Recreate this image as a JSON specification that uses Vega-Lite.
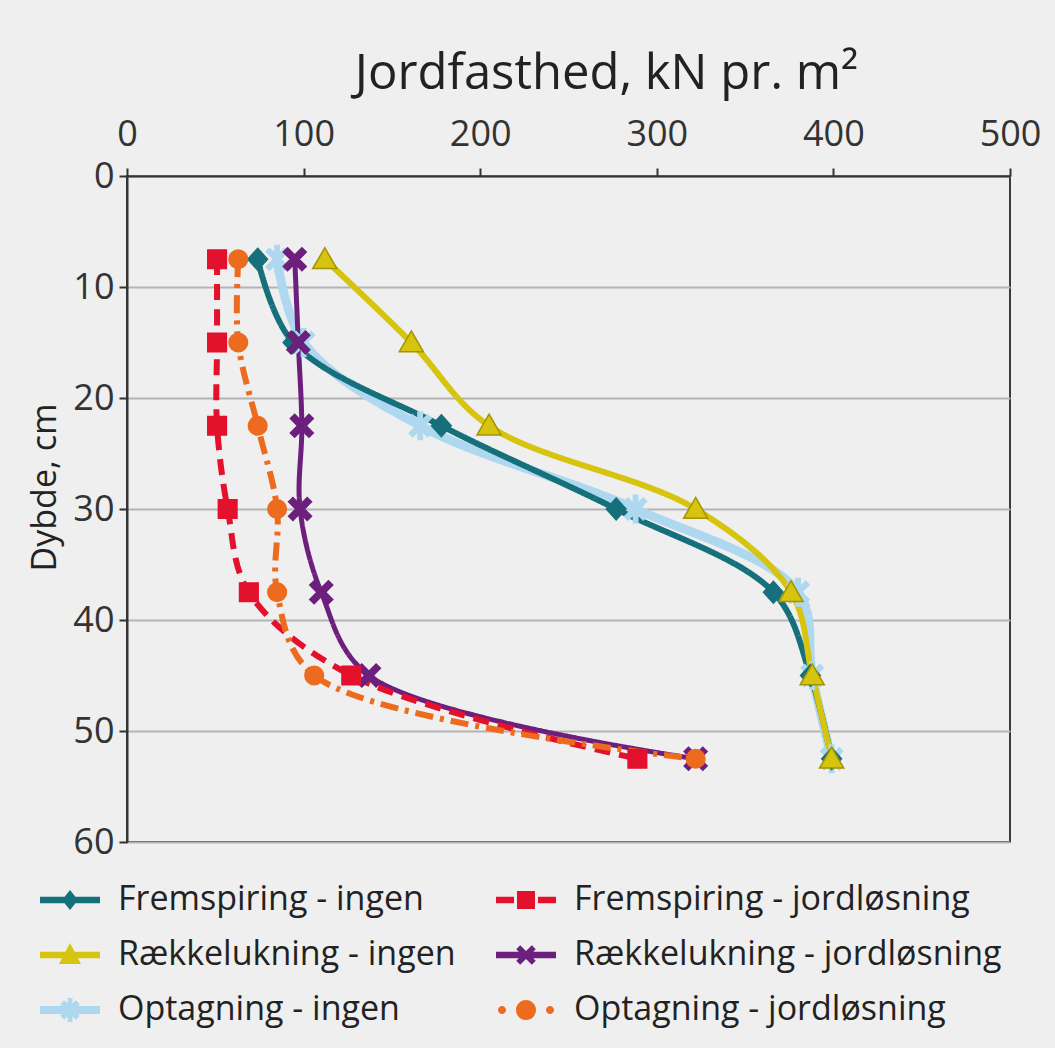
{
  "$schema": "https://vega.github.io/schema/vega-lite/v6.json",
  "autosize": "none",
  "width": 883,
  "height": 666,
  "padding": {"left": 127, "top": 176, "right": 45, "bottom": 206},
  "background": "#efefef",
  "config": {
    "font": "Open Sans",
    "view": {"stroke": "#3a3a3a", "strokeWidth": 2}
  },
  "data": {
    "values": [
      {"series": "Optagning - ingen", "depth": 7.5, "kn": 85},
      {"series": "Optagning - ingen", "depth": 15, "kn": 100},
      {"series": "Optagning - ingen", "depth": 22.5, "kn": 166},
      {"series": "Optagning - ingen", "depth": 30, "kn": 288},
      {"series": "Optagning - ingen", "depth": 37.5, "kn": 380},
      {"series": "Optagning - ingen", "depth": 45, "kn": 388},
      {"series": "Optagning - ingen", "depth": 52.5, "kn": 399},
      {"series": "Fremspiring - ingen", "depth": 7.5, "kn": 74},
      {"series": "Fremspiring - ingen", "depth": 15, "kn": 94},
      {"series": "Fremspiring - ingen", "depth": 22.5, "kn": 178},
      {"series": "Fremspiring - ingen", "depth": 30, "kn": 277},
      {"series": "Fremspiring - ingen", "depth": 37.5, "kn": 366},
      {"series": "Fremspiring - ingen", "depth": 45, "kn": 387},
      {"series": "Fremspiring - ingen", "depth": 52.5, "kn": 399},
      {"series": "Rækkelukning - ingen", "depth": 7.5, "kn": 112},
      {"series": "Rækkelukning - ingen", "depth": 15, "kn": 161},
      {"series": "Rækkelukning - ingen", "depth": 22.5, "kn": 205},
      {"series": "Rækkelukning - ingen", "depth": 30, "kn": 322},
      {"series": "Rækkelukning - ingen", "depth": 37.5, "kn": 376},
      {"series": "Rækkelukning - ingen", "depth": 45, "kn": 388},
      {"series": "Rækkelukning - ingen", "depth": 52.5, "kn": 399},
      {"series": "Rækkelukning - jordløsning", "depth": 7.5, "kn": 95},
      {"series": "Rækkelukning - jordløsning", "depth": 15, "kn": 97},
      {"series": "Rækkelukning - jordløsning", "depth": 22.5, "kn": 99},
      {"series": "Rækkelukning - jordløsning", "depth": 30, "kn": 98},
      {"series": "Rækkelukning - jordløsning", "depth": 37.5, "kn": 110},
      {"series": "Rækkelukning - jordløsning", "depth": 45, "kn": 137},
      {"series": "Rækkelukning - jordløsning", "depth": 52.5, "kn": 322},
      {"series": "Fremspiring - jordløsning", "depth": 7.5, "kn": 51},
      {"series": "Fremspiring - jordløsning", "depth": 15, "kn": 51},
      {"series": "Fremspiring - jordløsning", "depth": 22.5, "kn": 51},
      {"series": "Fremspiring - jordløsning", "depth": 30, "kn": 57},
      {"series": "Fremspiring - jordløsning", "depth": 37.5, "kn": 69},
      {"series": "Fremspiring - jordløsning", "depth": 45, "kn": 127},
      {"series": "Fremspiring - jordløsning", "depth": 52.5, "kn": 289},
      {"series": "Optagning - jordløsning", "depth": 7.5, "kn": 63},
      {"series": "Optagning - jordløsning", "depth": 15, "kn": 63},
      {"series": "Optagning - jordløsning", "depth": 22.5, "kn": 74},
      {"series": "Optagning - jordløsning", "depth": 30, "kn": 85},
      {"series": "Optagning - jordløsning", "depth": 37.5, "kn": 85},
      {"series": "Optagning - jordløsning", "depth": 45, "kn": 106},
      {"series": "Optagning - jordløsning", "depth": 52.5, "kn": 322}
    ]
  },
  "encoding": {
    "x": {
      "field": "kn",
      "type": "quantitative",
      "scale": {"domain": [0, 500]},
      "axis": {
        "orient": "top",
        "values": [0, 100, 200, 300, 400, 500],
        "grid": false,
        "title": "Jordfasthed, kN pr. m²",
        "titleFontSize": 49,
        "titleFontWeight": "normal",
        "titleColor": "#222222",
        "titleX": 479,
        "titleY": -88,
        "titleAlign": "center",
        "titleBaseline": "alphabetic",
        "labelFontSize": 36,
        "labelColor": "#333333",
        "labelBaseline": "alphabetic",
        "labelPadding": 23,
        "labelFlush": false,
        "labelOverlap": false,
        "tickSize": 8,
        "tickWidth": 2,
        "tickColor": "#333333",
        "domainColor": "#333333",
        "domainWidth": 2
      }
    },
    "y": {
      "field": "depth",
      "type": "quantitative",
      "scale": {"domain": [0, 60], "reverse": true},
      "axis": {
        "values": [0, 10, 20, 30, 40, 50, 60],
        "grid": true,
        "gridColor": "#b4b4b4",
        "gridWidth": 2,
        "title": "Dybde, cm",
        "titleFontSize": 34,
        "titleFontWeight": "normal",
        "titleColor": "#222222",
        "titleX": -82,
        "titleY": 311,
        "titleAlign": "center",
        "titleBaseline": "middle",
        "labelFontSize": 36,
        "labelColor": "#333333",
        "labelPadding": 5,
        "labelFlush": false,
        "labelOverlap": false,
        "tickSize": 8,
        "tickWidth": 2,
        "tickColor": "#333333",
        "domainColor": "#333333",
        "domainWidth": 2
      }
    }
  },
  "resolve": {"scale": {"color": "independent", "shape": "independent"}},
  "layer": [
    {
      "mark": {"type": "line", "interpolate": "catmull-rom", "strokeCap": "butt", "strokeJoin": "round"},
      "encoding": {
        "order": {"field": "depth", "type": "quantitative"},
        "color": {
          "field": "series",
          "type": "nominal",
          "scale": {
            "domain": ["Fremspiring - ingen", "Rækkelukning - ingen", "Optagning - ingen", "Fremspiring - jordløsning", "Rækkelukning - jordløsning", "Optagning - jordløsning"],
            "range": ["#16707c", "#d6c40f", "#aed8ef", "#e3112c", "#6c1f7d", "#ed6b1f"]
          },
          "legend": null
        },
        "strokeDash": {
          "field": "series",
          "type": "nominal",
          "scale": {
            "domain": ["Fremspiring - ingen", "Rækkelukning - ingen", "Optagning - ingen", "Fremspiring - jordløsning", "Rækkelukning - jordløsning", "Optagning - jordløsning"],
            "range": [[1, 0], [1, 0], [1, 0], [16, 9], [1, 0], [18, 7, 4, 7]]
          },
          "legend": null
        },
        "strokeWidth": {
          "field": "series",
          "type": "nominal",
          "scale": {
            "type": "ordinal",
            "domain": ["Fremspiring - ingen", "Rækkelukning - ingen", "Optagning - ingen", "Fremspiring - jordløsning", "Rækkelukning - jordløsning", "Optagning - jordløsning"],
            "range": [6, 6, 9, 6, 5, 6]
          },
          "legend": null
        }
      }
    },
    {
      "mark": {"type": "point", "filled": true, "opacity": 1, "size": 480, "strokeWidth": 1.5},
      "encoding": {
        "fill": {
          "field": "series",
          "type": "nominal",
          "scale": {
            "domain": ["Fremspiring - ingen", "Rækkelukning - ingen", "Optagning - ingen", "Fremspiring - jordløsning", "Rækkelukning - jordløsning", "Optagning - jordløsning"],
            "range": ["#16707c", "#d6c40f", "#aed8ef", "#e3112c", "#6c1f7d", "#ed6b1f"]
          },
          "legend": null
        },
        "stroke": {
          "field": "series",
          "type": "nominal",
          "scale": {
            "domain": ["Fremspiring - ingen", "Rækkelukning - ingen", "Optagning - ingen", "Fremspiring - jordløsning", "Rækkelukning - jordløsning", "Optagning - jordløsning"],
            "range": ["#16707c", "#a39400", "#aed8ef", "#e3112c", "#6c1f7d", "#ed6b1f"]
          },
          "legend": null
        },
        "shape": {
          "field": "series",
          "type": "nominal",
          "scale": {
            "domain": ["Fremspiring - ingen", "Rækkelukning - ingen", "Optagning - ingen", "Fremspiring - jordløsning", "Rækkelukning - jordløsning", "Optagning - jordløsning"],
            "range": [
              "M0,-1L0.9,0L0,1L-0.9,0Z",
              "M0,-1.05L1.1,0.85L-1.1,0.85Z",
              "M0.693,-1.004L1.004,-0.693L0.311,0L1.004,0.693L0.693,1.004L0,0.311L-0.693,1.004L-1.004,0.693L-0.311,0L-1.004,-0.693L-0.693,-1.004L0,-0.311Z M-0.2,-1.25H0.2V1.25H-0.2Z",
              "M-0.85,-0.85H0.85V0.85H-0.85Z",
              "M0.651,-1.047L1.047,-0.651L0.396,0L1.047,0.651L0.651,1.047L0,0.396L-0.651,1.047L-1.047,0.651L-0.396,0L-1.047,-0.651L-0.651,-1.047L0,-0.396Z",
              "M-0.85,0A0.85,0.85 0 1,1 0.85,0A0.85,0.85 0 1,1 -0.85,0Z"
            ]
          },
          "legend": null
        }
      }
    },
    {
      "transform": [{"filter": "datum.kn < 0"}],
      "mark": {"type": "point", "filled": true, "opacity": 1},
      "encoding": {
        "color": {
          "field": "series",
          "type": "nominal",
          "scale": {
            "domain": ["Fremspiring - ingen", "Rækkelukning - ingen", "Optagning - ingen", "Fremspiring - jordløsning", "Rækkelukning - jordløsning", "Optagning - jordløsning"],
            "range": ["#16707c", "#d6c40f", "#aed8ef", "#e3112c", "#6c1f7d", "#ed6b1f"]
          },
          "legend": {
            "title": null,
            "orient": "none",
            "legendX": -87,
            "legendY": 704,
            "columns": 2,
            "padding": 0,
            "symbolSize": 1600,
            "symbolStrokeWidth": 0,
            "labelFontSize": 34,
            "labelColor": "#222222",
            "labelOffset": 38,
            "labelLimit": 600,
            "rowPadding": 18,
            "columnPadding": 40
          }
        },
        "shape": {
          "field": "series",
          "type": "nominal",
          "scale": {
            "domain": ["Fremspiring - ingen", "Rækkelukning - ingen", "Optagning - ingen", "Fremspiring - jordløsning", "Rækkelukning - jordløsning", "Optagning - jordløsning"],
            "range": [
              "M-1,-0.16H2V0.16H-1Z M0.5,-0.5L0.9,0L0.5,0.5L0.1,0Z",
              "M-1,-0.16H2V0.16H-1Z M0.5,-0.6L1.05,0.45L-0.05,0.45Z",
              "M-1,-0.2H2V0.2H-1Z M0.79,-0.488L0.988,-0.29L0.698,0L0.988,0.29L0.79,0.488L0.5,0.198L0.21,0.488L0.012,0.29L0.302,0L0.012,-0.29L0.21,-0.488L0.5,-0.198Z M0.38,-0.6H0.62V0.6H0.38Z",
              "M-1,-0.16H-0.1V0.16H-1Z M1.1,-0.16H2V0.16H1.1Z M0.05,-0.45H0.95V0.45H0.05Z",
              "M-1,-0.16H2V0.16H-1Z M0.79,-0.488L0.988,-0.29L0.698,0L0.988,0.29L0.79,0.488L0.5,0.198L0.21,0.488L0.012,0.29L0.302,0L0.012,-0.29L0.21,-0.488L0.5,-0.198Z",
              "M-0.9,0A0.2,0.2 0 1,1 -0.5,0A0.2,0.2 0 1,1 -0.9,0Z M0,0A0.5,0.5 0 1,1 1,0A0.5,0.5 0 1,1 0,0Z M1.5,0A0.2,0.2 0 1,1 1.9,0A0.2,0.2 0 1,1 1.5,0Z"
            ]
          },
          "legend": {
            "title": null,
            "orient": "none",
            "legendX": -87,
            "legendY": 704,
            "columns": 2,
            "padding": 0,
            "symbolSize": 1600,
            "symbolStrokeWidth": 0,
            "labelFontSize": 34,
            "labelColor": "#222222",
            "labelOffset": 38,
            "labelLimit": 600,
            "rowPadding": 18,
            "columnPadding": 40
          }
        }
      }
    }
  ]
}
